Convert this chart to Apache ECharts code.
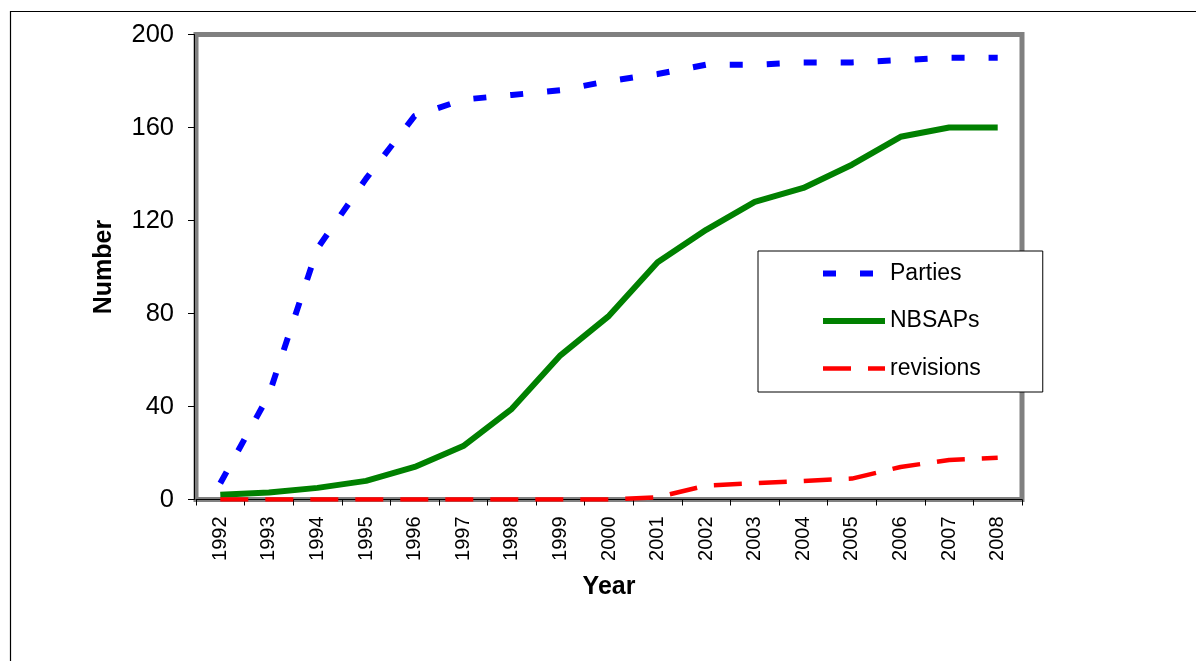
<!DOCTYPE html>
<html>
<head>
<meta charset="utf-8">
<script src="https://cdn.jsdelivr.net/npm/echarts@6/dist/echarts.min.js"></script>
<style>
html,body{margin:0;padding:0;background:#fff;}
#chart{width:1196px;height:661px;}
</style>
</head>
<body>
<div id="chart"></div>
<script>
const years = ['1992','1993','1994','1995','1996','1997','1998','1999','2000','2001','2002','2003','2004','2005','2006','2007','2008'];
const parties = [7, 45, 108, 138, 165, 172, 174, 176, 180, 183, 187, 187, 188, 188, 189, 190, 190];
const nbsaps = [2, 3, 5, 8, 14, 23, 39, 62, 79, 102, 116, 128, 134, 144, 156, 160, 160];
const revisions = [0, 0, 0, 0, 0, 0, 0, 0, 0, 1, 6, 7, 8, 9, 14, 17, 18];
const yTicks = [0, 40, 80, 120, 160, 200];

const chart = echarts.init(document.getElementById('chart'));
const FONT = 'Liberation Sans, Arial, sans-serif';
chart.setOption({
  animation: false,
  backgroundColor: '#fff',
  textStyle: { fontFamily: FONT, color: '#000' },
  graphic: [
    { type: 'line', shape: { x1: 10, y1: 11.5, x2: 1196, y2: 11.5 }, style: { stroke: '#000', lineWidth: 1.2 }, silent: true },
    { type: 'line', shape: { x1: 10.5, y1: 11, x2: 10.5, y2: 661 }, style: { stroke: '#000', lineWidth: 1.2 }, silent: true }
  ],
  grid: {
    left: 196, right: 174, top: 34.5, bottom: 161.5,
    show: true, borderColor: '#808080', borderWidth: 5, backgroundColor: '#fff'
  },
  legend: {
    orient: 'vertical',
    left: 758, top: 251,
    backgroundColor: '#fff',
    borderColor: '#000', borderWidth: 1,
    padding: [11, 62, 12, 62],
    itemWidth: 62, itemHeight: 14, itemGap: 24.5,
    itemStyle: { color: 'rgba(0,0,0,0)', borderWidth: 0, opacity: 0 },
    lineStyle: { width: 'inherit', type: 'inherit', cap: 'butt' },
    textStyle: { fontSize: 23, lineHeight: 23, fontFamily: FONT, color: '#000' },
    data: ['Parties', 'NBSAPs', 'revisions']
  },
  xAxis: {
    type: 'category',
    data: years,
    boundaryGap: true,
    name: 'Year',
    nameLocation: 'middle',
    nameGap: 75,
    nameTextStyle: { fontSize: 25, fontWeight: 'bold', fontFamily: FONT, color: '#000' },
    axisLine: { show: true, lineStyle: { color: '#000', width: 1 } },
    axisTick: { show: true, alignWithLabel: false, length: 6, inside: false, lineStyle: { color: '#000' } },
    axisLabel: { rotate: 90, fontSize: 20, margin: 17, color: '#000', fontFamily: FONT, interval: 0 },
    splitLine: { show: false }
  },
  yAxis: {
    type: 'value',
    min: 0, max: 200, interval: 40,
    offset: 2,
    name: 'Number',
    nameLocation: 'middle',
    nameGap: 77,
    nameRotate: 90,
    nameTextStyle: { fontSize: 25, fontWeight: 'bold', fontFamily: FONT, color: '#000' },
    axisLine: { show: true, lineStyle: { color: '#000', width: 1 } },
    axisTick: { show: true, length: 6, lineStyle: { color: '#000' } },
    axisLabel: {
      fontSize: 25.5, margin: 20, color: '#000', fontFamily: FONT,
      formatter: v => (yTicks.indexOf(v) >= 0 ? String(v) : '')
    },
    splitLine: { show: false }
  },
  series: [
    {
      name: 'Parties', type: 'line', data: parties,
      symbol: 'none', showSymbol: false,
      lineStyle: { color: '#0000FF', width: 6, type: [13, 24], cap: 'butt' },
      itemStyle: { color: '#0000FF' },
      z: 3
    },
    {
      name: 'NBSAPs', type: 'line', data: nbsaps,
      symbol: 'none', showSymbol: false,
      lineStyle: { color: '#008000', width: 6, type: 'solid' },
      itemStyle: { color: '#008000' },
      z: 2
    },
    {
      name: 'revisions', type: 'line', data: revisions,
      symbol: 'none', showSymbol: false,
      lineStyle: { color: '#FF0000', width: 4.5, type: [28, 17], cap: 'butt' },
      itemStyle: { color: '#FF0000' },
      z: 4
    }
  ]
});
</script>
</body>
</html>
